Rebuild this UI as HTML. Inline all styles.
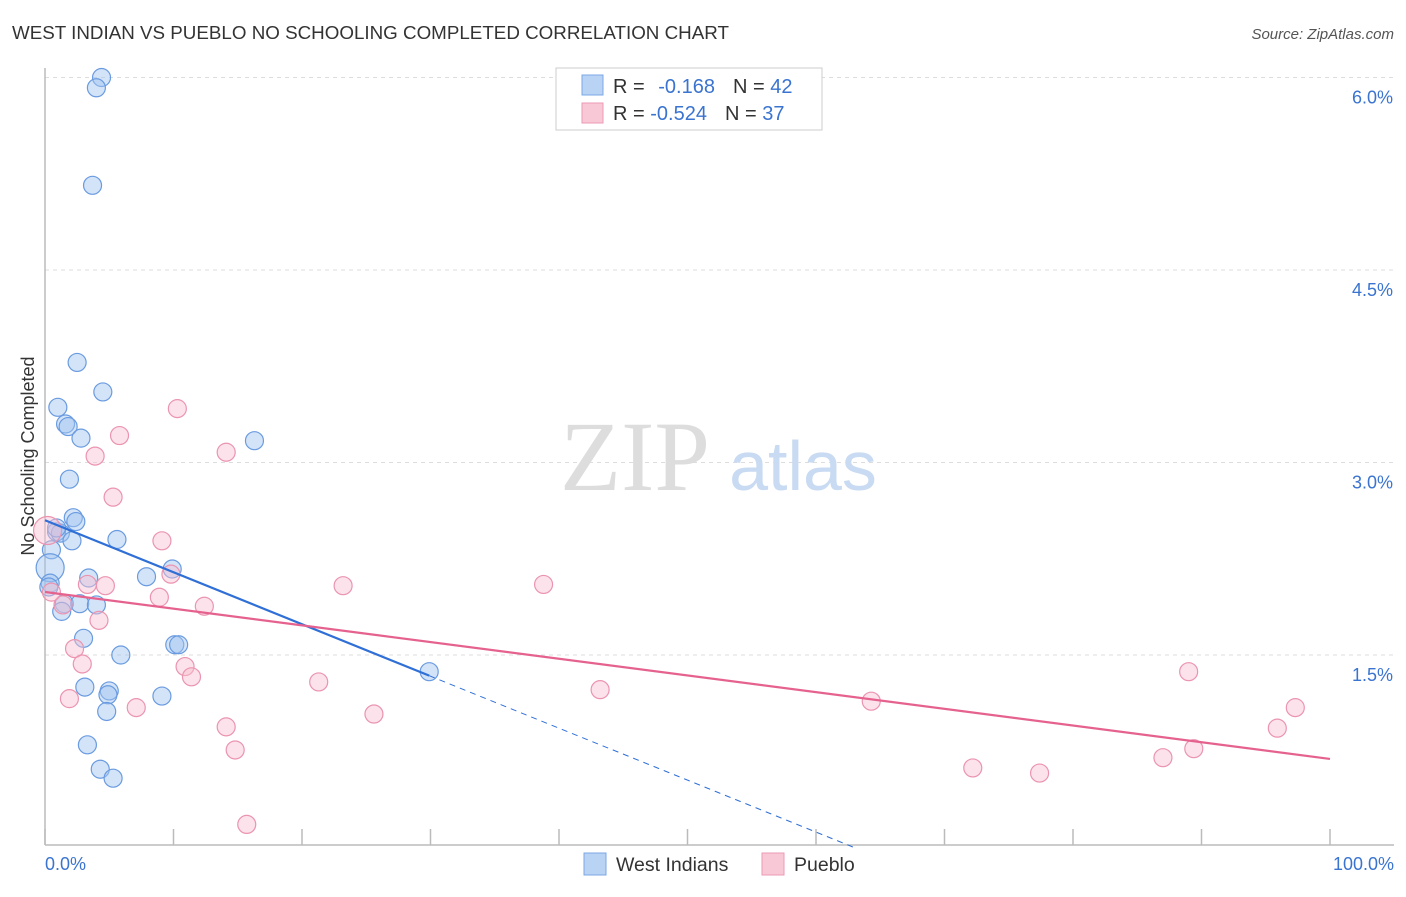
<!DOCTYPE html>
<html><head><meta charset="utf-8"><style>
body{margin:0;background:#fff;font-family:"Liberation Sans",sans-serif;}
svg text{font-family:"Liberation Sans",sans-serif;}
</style></head><body>
<svg width="1406" height="892" viewBox="0 0 1406 892" xmlns="http://www.w3.org/2000/svg">
<text x="12" y="39" font-size="18.8" fill="#333">WEST INDIAN VS PUEBLO NO SCHOOLING COMPLETED CORRELATION CHART</text>
<text x="1394" y="39" font-size="15" fill="#555" text-anchor="end" font-style="italic">Source: ZipAtlas.com</text>
<text transform="translate(34,456) rotate(-90)" font-size="18" fill="#333" text-anchor="middle">No Schooling Completed</text>
<g id="grid"></g>
<line x1="45" y1="68" x2="45" y2="845" stroke="#bbb" stroke-width="1.5"/>
<line x1="45" y1="845" x2="1394" y2="845" stroke="#bbb" stroke-width="1.5"/>
<g id="xticks"></g>
<g id="ylabels"></g>
<text x="635" y="490" font-size="100" fill="#ddd" text-anchor="middle" style="font-family:'Liberation Serif',serif">ZIP</text>
<text x="803" y="490" font-size="70" fill="#c9dbf2" text-anchor="middle">atlas</text>
<g id="pts"></g>
<g id="trends"></g>
<text x="45" y="870" font-size="18" fill="#3a74d0">0.0%</text>
<text x="1394" y="870" font-size="18" fill="#3a74d0" text-anchor="end">100.0%</text>
<g>
<rect x="556" y="68" width="266" height="62" fill="#fff" stroke="#ccc"/>
<rect x="582" y="75" width="21" height="20" fill="#b9d3f5" stroke="#7aa7e6"/>
<rect x="582" y="103" width="21" height="20" fill="#f9c8d6" stroke="#eb9ab4"/>
<text x="613" y="93" font-size="20" fill="#333">R = <tspan fill="#3a74d0" dx="8">-0.168</tspan><tspan dx="18" fill="#333">N = </tspan><tspan fill="#3a74d0">42</tspan></text>
<text x="613" y="120" font-size="20" fill="#333">R = <tspan fill="#3a74d0">-0.524</tspan><tspan dx="18" fill="#333">N = </tspan><tspan fill="#3a74d0">37</tspan></text>
</g>
<g>
<rect x="584" y="853" width="22" height="22" fill="#b9d3f5" stroke="#7aa7e6"/>
<text x="616" y="871" font-size="19.5" fill="#333">West Indians</text>
<rect x="762" y="853" width="22" height="22" fill="#f9c8d6" stroke="#eb9ab4"/>
<text x="794" y="871" font-size="19.5" fill="#333">Pueblo</text>
</g>
</svg>
<script>
const yTicks=[1.5,3.0,4.5,6.0];
const xTicks=[0,10,20,30,40,50,60,70,80,90,100];
const blueX=[4.4,4.0,3.7,2.5,4.5,1.0,1.6,1.8,2.8,16.3,1.9,2.2,2.4,0.9,1.2,5.6,2.1,0.5,0.4,0.4,0.3,3.4,7.9,9.9,1.5,1.3,2.7,4.0,3.0,5.9,10.1,10.4,3.1,5.0,4.9,9.1,4.8,29.9,3.3,4.3,5.3,0.9];
const blueY=[6.00,5.92,5.16,3.78,3.55,3.43,3.30,3.28,3.19,3.17,2.87,2.57,2.54,2.46,2.45,2.40,2.39,2.32,2.18,2.06,2.03,2.10,2.11,2.17,1.90,1.84,1.90,1.89,1.63,1.50,1.58,1.58,1.25,1.22,1.19,1.18,1.06,1.37,0.80,0.61,0.54,2.49];
const pinkX=[10.3,5.8,3.9,14.1,5.3,9.1,23.2,38.8,4.7,3.3,9.8,8.9,12.4,1.4,0.5,4.2,2.3,2.9,10.9,11.4,21.3,43.2,1.9,7.1,25.6,14.1,14.8,15.7,64.3,89.0,97.3,95.9,72.2,77.4,87.0,89.4,0.2];
const pinkY=[3.42,3.21,3.05,3.08,2.73,2.39,2.04,2.05,2.04,2.05,2.13,1.95,1.88,1.89,1.99,1.77,1.55,1.43,1.41,1.33,1.29,1.23,1.16,1.09,1.04,0.94,0.76,0.18,1.14,1.37,1.09,0.93,0.62,0.58,0.70,0.77,2.47];
const blueTrend=[2.55,-0.0405,29.9];
const pinkTrend=[1.991,-0.01301,100];
const NS="http://www.w3.org/2000/svg";
function sx(v){return 45+v*12.85;}
function sy(v){return 847.5-v*128.33;}
function mk(t,a,p){const e=document.createElementNS(NS,t);for(const k in a)e.setAttribute(k,a[k]);p.appendChild(e);return e;}
const grid=document.getElementById('grid'),yl=document.getElementById('ylabels'),xt=document.getElementById('xticks');
yTicks.forEach(v=>{
 const l=mk('line',{x1:45,x2:1394,y1:sy(v),y2:sy(v),stroke:'#ddd','stroke-dasharray':'4,4'},grid);
 
 
 const t=mk('text',{x:1393,y:sy(v)+26,'font-size':18,fill:'#3a74d0','text-anchor':'end'},yl);
 t.textContent=v.toFixed(1)+'%';
 
 
});
xTicks.forEach(v=>{
 const l=mk('line',{x1:sx(v),x2:sx(v),y1:829,y2:845,stroke:'#bbb','stroke-width':1.5},xt);
 
 
});
const pts=document.getElementById('pts');
blueX.forEach((x,i)=>{
 const c=mk('circle',{cx:sx(x),cy:sy(blueY[i]),r:i==18?14:9,fill:'rgba(160,195,240,0.45)',stroke:'#6a9be0','stroke-width':1.2},pts);
 
 
});
pinkX.forEach((x,i)=>{
 const c=mk('circle',{cx:sx(x),cy:sy(pinkY[i]),r:i==36?14:9,fill:'rgba(248,190,208,0.45)',stroke:'#eb94b0','stroke-width':1.2},pts);
 
 
});
const tr=document.getElementById('trends');
const b0=blueTrend[0],b1=blueTrend[1],bx=blueTrend[2],bEnd=-b0/b1;
let l=mk('line',{x1:sx(0),y1:sy(b0),x2:sx(bx),y2:sy(b0+b1*bx),stroke:'#2f6fd6','stroke-width':2.2},tr);


l=mk('line',{x1:sx(bx),y1:sy(b0+b1*bx),x2:sx(bEnd),y2:sy(0),stroke:'#2f6fd6','stroke-width':1,'stroke-dasharray':'6,5'},tr);


l=mk('line',{x1:sx(0),y1:sy(pinkTrend[0]),x2:sx(pinkTrend[2]),y2:sy(pinkTrend[0]+pinkTrend[1]*pinkTrend[2]),stroke:'#e6628e','stroke-width':2.2},tr);


</script>
</body></html>
